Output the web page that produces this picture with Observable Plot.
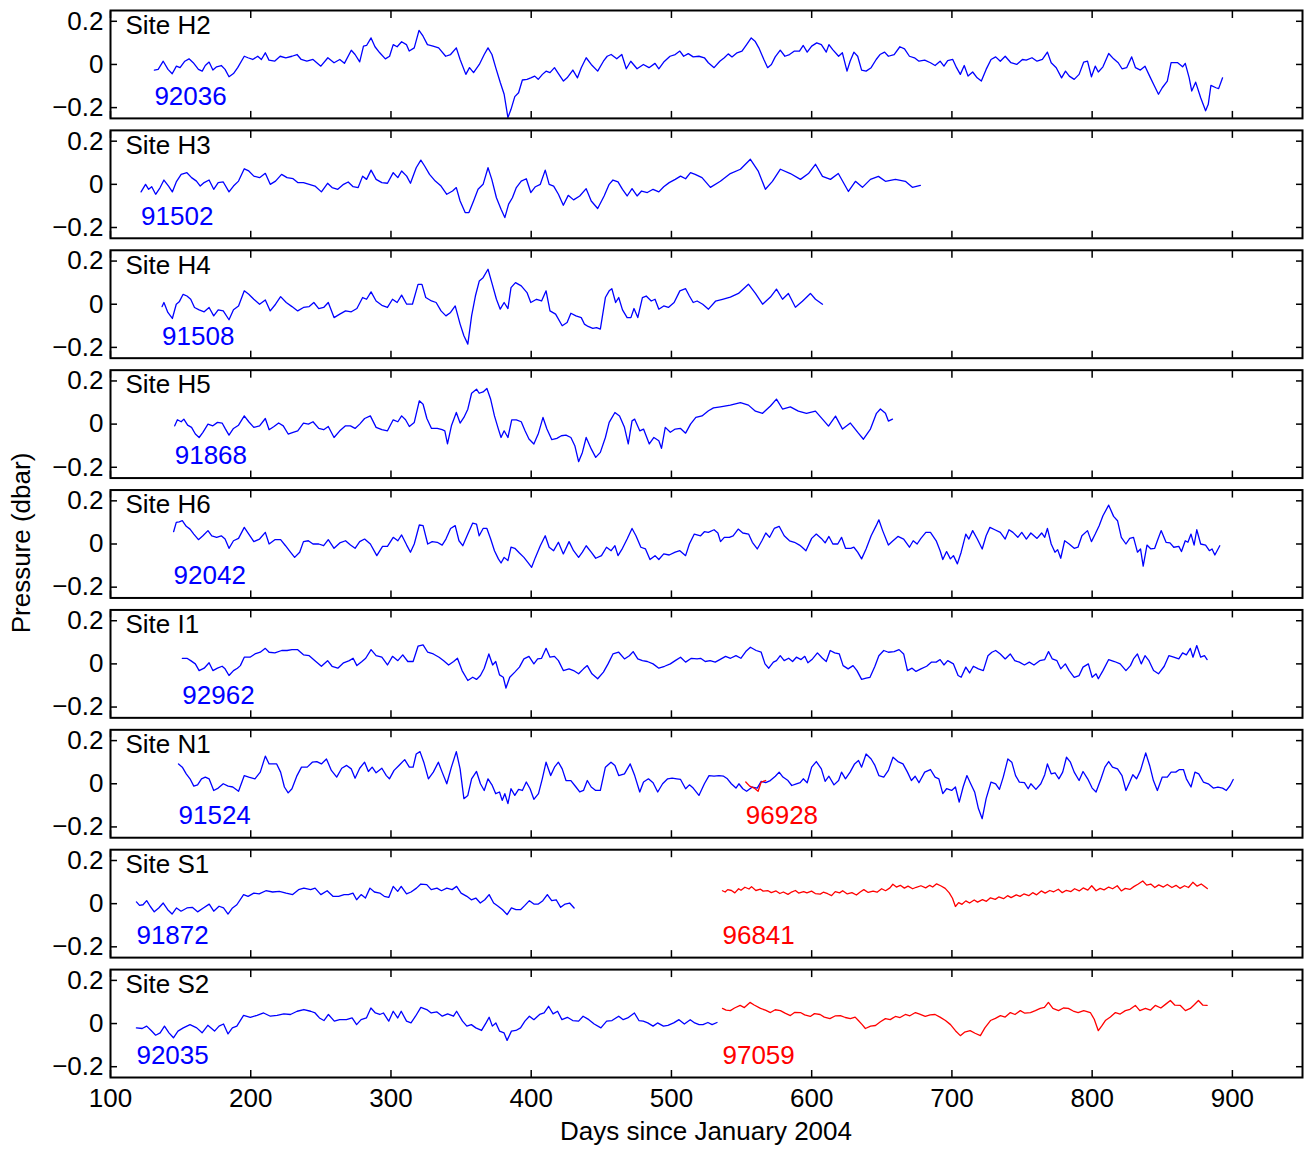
<!DOCTYPE html>
<html><head><meta charset="utf-8">
<script src="https://cdn.jsdelivr.net/npm/d3@7"></script>
<script src="https://cdn.jsdelivr.net/npm/@observablehq/plot@0.6"></script>
<style>
body{margin:0;background:#fff;}
#wrap{position:relative;width:1309px;height:1149px;font-family:"Liberation Sans",Arial,Helvetica,sans-serif;color:#000;}
.ylab{position:absolute;left:22px;top:543px;transform:translate(-50%,-50%) rotate(-90deg);font-size:26px;white-space:nowrap;line-height:1.15;}
.xlab{position:absolute;left:706px;top:1132px;transform:translate(-50%,-50%);font-size:26px;white-space:nowrap;line-height:1.15;}
</style></head>
<body><div id="wrap"><div class="ylab">Pressure (dbar)</div><div class="xlab">Days since January 2004</div></div>
<script>
const sites = ["H2","H3","H4","H5","H6","I1","N1","S1","S2"];
const xTicks = [100,200,300,400,500,600,700,800,900];
const yTicks = [-0.2,0,0.2];
const yTickLabels = ["\u22120.2","0","0.2"];

const s92036 = [[131.3,-0.026],[134,-0.023],[137.6,0.015],[141,-0.023],[144,-0.043],[147,-0.008],[149.6,-0.015],[153,0.015],[156,0.026],[159,0.008],[162.7,-0.023],[165.4,-0.031],[167.6,-0.005],[170.3,0.011],[173,-0.026],[175.7,-0.011],[179,-0.005],[181.7,-0.023],[184.5,-0.057],[187.7,-0.042],[190.7,-0.015],[195.4,0.038],[198,0.031],[201.4,0.023],[205,0.038],[207.6,0.023],[210.4,0.054],[213,0.02],[217,0.015],[221,0.038],[225,0.031],[229.4,0.038],[233,0.046],[236,0.023],[240,0.015],[244.4,0.023],[250,-0.008],[255,0.031],[259.4,0.008],[263.5,0.023],[266.8,0.005],[271.7,0.066],[274.4,0.046],[277.7,0.012],[280.4,0.085],[282.6,0.088],[285.8,0.123],[288.6,0.082],[292,0.054],[296,0.026],[299,0.038],[301.6,0.092],[304.4,0.082],[307.6,0.105],[311,0.092],[313,0.062],[316.6,0.077],[320,0.158],[322.9,0.131],[326,0.092],[330,0.085],[334,0.077],[339,0.038],[342.5,0.046],[346.6,0.077],[349.3,0.023],[353.4,-0.046],[356,-0.015],[358.9,-0.038],[363,0],[366.5,0.046],[369.2,0.077],[372,0.046],[374.7,-0.015],[378,-0.085],[380.7,-0.138],[383.4,-0.246],[385.6,-0.208],[388.3,-0.149],[391,-0.131],[393.7,-0.072],[397,-0.069],[399.7,-0.062],[402.5,-0.054],[405,-0.069],[408,-0.046],[410.6,-0.031],[413.4,-0.038],[416.6,-0.015],[419.4,-0.042],[423,-0.077],[425.6,-0.062],[429.7,-0.026],[433,-0.062],[435.7,-0.015],[439.2,0.031],[442.8,0],[447.4,-0.031],[451.5,0.015],[454.2,0.038],[457,0.046],[461,0.026],[464.6,0.046],[467.8,-0.02],[471,0.015],[475.5,-0.02],[480,0],[484,-0.015],[488.3,0.005],[491,-0.02],[494.5,0.011],[499,0.038],[502.7,0.046],[506,0.062],[508.7,0.038],[512,0.05],[515.5,0.035],[519.6,0.038],[523.5,0.031],[526.3,0.008],[530.4,-0.015],[534.5,0.015],[537.7,0.031],[540.5,0.049],[543.2,0.035],[546.8,0.054],[550.3,0.062],[553.6,0.092],[556.9,0.123],[559.6,0.108],[562.3,0.077],[565.9,0.023],[568.6,-0.015],[571.3,0],[574,0.035],[577.6,0.066],[580.9,0.038],[584.2,0.046],[587.7,0.062],[591.3,0.062],[594,0.088],[596.8,0.057],[600,0.085],[603.6,0.1],[606.9,0.092],[610.4,0.057],[612.3,0.092],[615,0.069],[619.2,0.038],[621.9,0.054],[625.2,-0.031],[627.4,0.015],[630.1,0.057],[632.8,0.038],[635.6,-0.026],[638.8,-0.031],[642.4,-0.015],[646,0.023],[648.7,0.046],[652,0.057],[654.7,0.038],[658.8,0.046],[662.9,0.082],[666.2,0.072],[669.7,0.038],[673.3,0.031],[676.5,0.015],[680.6,0.02],[684.7,0.008],[688,-0.005],[691.6,0.015],[694.3,-0.008],[697,0.018],[700.6,0.023],[703.3,-0.015],[706,-0.046],[708.8,-0.005],[711.5,-0.054],[714.8,-0.035],[718,-0.062],[721,-0.077],[724.4,-0.023],[727.9,0.023],[731.2,0.035],[734.5,0.015],[738,0.038],[742.1,0.008],[746.2,0],[750.3,0.023],[753,0.02],[757.1,0.031],[760.7,0.015],[764.5,0.023],[768.1,0.057],[770.8,0.008],[774.4,-0.015],[778.2,-0.062],[781,-0.031],[783.7,-0.054],[787.2,-0.069],[790.7,-0.046],[794,0.011],[796.7,0.015],[799.5,-0.057],[802.2,-0.008],[804.4,-0.035],[807.7,-0.011],[811.8,0.051],[815.3,0.026],[818.6,0.008],[821.3,-0.02],[824.6,-0.015],[828.2,0.035],[830.9,-0.015],[834.4,-0.026],[837.7,-0.008],[841,-0.054],[843.8,-0.092],[847.3,-0.138],[850,-0.108],[853.6,-0.077],[856.3,0.008],[861,0.008],[864.5,-0.011],[866.4,0.005],[869.2,-0.062],[871,-0.123],[873.8,-0.082],[877.4,-0.154],[880.9,-0.215],[882.8,-0.185],[884.7,-0.097],[888.3,-0.108],[890.2,-0.112],[893,-0.062]];

const s91502 = [[121.8,-0.035],[125,0],[127.2,-0.023],[129.4,-0.011],[132.2,-0.046],[135.4,-0.015],[138.1,0.02],[141.4,-0.008],[144.1,-0.035],[146.9,0.011],[150.4,0.046],[154.5,0.054],[157.8,0.031],[161.3,0.015],[164,-0.008],[166.8,0.008],[170.3,0.02],[173.6,-0.023],[176.8,0.008],[180.4,0.011],[184.5,-0.035],[187.7,-0.008],[191.3,0.015],[195.4,0.072],[198.6,0.062],[202.2,0.038],[206.3,0.031],[210.4,0.051],[213.9,0],[217.7,0.015],[222,0.046],[225.9,0.031],[230.2,0.026],[233.5,0.008],[237.6,0.008],[241.7,0],[245.8,-0.008],[250.4,-0.035],[254.8,0.005],[258,-0.015],[262.1,-0.023],[266.2,0],[269.5,0.011],[273,-0.011],[276.6,-0.015],[279.8,0.038],[282.6,0.023],[285.8,0.066],[289.4,0.023],[293.5,0.008],[297.5,0.005],[301.6,0.054],[304.9,0.031],[307.6,0.062],[311.2,0.038],[313.9,0.005],[318,0.077],[321.3,0.112],[324,0.085],[327.5,0.046],[331.6,0.015],[335.7,-0.008],[339.8,-0.046],[343.9,-0.031],[346.6,-0.015],[349.3,-0.077],[352.9,-0.131],[355.6,-0.131],[358.9,-0.077],[362.1,-0.023],[365.7,0],[369.2,0.077],[371.9,0.023],[375.2,-0.062],[378.5,-0.115],[381.2,-0.154],[383.9,-0.092],[386.6,-0.062],[389.4,-0.015],[392.9,0.015],[396.5,0.026],[399.7,-0.038],[403,-0.011],[406.5,0],[410,0.066],[412.8,0],[416,-0.008],[419.4,-0.046],[422.9,-0.097],[426.4,-0.051],[430.2,-0.072],[434.6,-0.054],[439.2,-0.02],[442.8,-0.077],[447.4,-0.112],[452,-0.054],[455.6,0],[458.3,0.02],[461.9,0.011],[465.1,-0.023],[468.4,-0.054],[471.9,-0.02],[475.5,-0.054],[478.7,-0.031],[482.8,-0.038],[486.9,-0.023],[491,-0.035],[494.5,-0.011],[498.4,0.008],[502.7,0.023],[506.5,0.038],[510.1,0.026],[513.6,0.054],[516.9,0.046],[521.8,0.031],[527.8,-0.014],[534.9,0.014],[542,0.05],[549.2,0.07],[556.3,0.116],[562,0.06],[567,-0.023],[572,0.014],[577.7,0.07],[584.8,0.05],[592,0.023],[597.7,0.05],[602.7,0.093],[607.7,0.037],[613.4,0.023],[619,0.05],[626.2,-0.033],[631.2,0.014],[636.2,-0.014],[641.9,0.023],[647.6,0.037],[652.6,0.014],[659.7,0.023],[666.8,0.014],[671.8,-0.014],[677.5,-0.005]];

const s91508 = [[136.8,-0.011],[138.1,0.008],[140.9,-0.038],[144.1,-0.066],[146.9,0],[149,0.011],[151.8,0.046],[154.5,0.038],[157.2,0.023],[159.9,-0.015],[163.2,-0.026],[166.8,-0.035],[170.3,-0.015],[173.6,-0.054],[176.8,-0.026],[180.4,-0.031],[184.5,-0.072],[187.7,-0.026],[191.3,-0.008],[195.4,0.062],[198.6,0.046],[202.2,0.023],[206.3,0],[210.4,0.02],[213.9,-0.031],[217.7,0],[221.3,0.035],[225.3,0.008],[229.4,-0.011],[233.5,-0.031],[237.6,-0.015],[241.7,-0.011],[245,0.008],[248.5,-0.02],[252,-0.015],[255.3,0.008],[259.4,-0.062],[263.5,-0.046],[267.6,-0.031],[271.7,-0.035],[275.7,-0.02],[279.8,0.031],[282.6,0.023],[285.8,0.057],[289.4,0.015],[293.5,-0.005],[297.5,-0.015],[301.1,0.023],[304.4,0.008],[307.6,0.042],[311.2,0],[315.3,0],[319.3,0.092],[322.1,0.092],[324.8,0.031],[328.9,0.015],[332.2,0.008],[335.7,-0.031],[339.2,-0.054],[342.5,-0.038],[345.8,-0.008],[349.3,-0.092],[352,-0.146],[354.8,-0.185],[357.5,-0.054],[360.2,0.038],[363,0.108],[365.7,0.123],[369.2,0.162],[371.9,0.1],[375.2,0.023],[377.9,-0.023],[380.7,0.008],[383.4,-0.02],[385.6,0.077],[388.8,0.1],[392.9,0.085],[397,0.054],[399.7,0.008],[403.8,0.023],[407.4,0.015],[410.6,0.062],[413.4,-0.031],[417.4,-0.046],[422.1,-0.1],[425.6,-0.085],[428.3,-0.042],[431.9,-0.054],[435.7,-0.062],[437.9,-0.092],[440.6,-0.103],[443.9,-0.112],[446.6,-0.108],[449.3,-0.115],[452.9,0.031],[455.6,0.062],[457.5,0.072],[460.2,0.008],[462.4,0.031],[465.1,-0.026],[468.4,-0.062],[471.1,-0.062],[473.3,-0.02],[476,-0.062],[479.3,0.031],[482,0.038],[485.6,0.015],[488.3,0.023],[491,-0.023],[494.5,-0.008],[497.8,-0.015],[501.9,0.008],[506,0.062],[510.1,0.072],[512.8,0.038],[515.5,0.008],[518.3,0.015],[522.3,0],[526.4,-0.023],[531.4,0.014],[536.4,0.023],[542,0.033],[547.8,0.05],[554.9,0.093],[559.9,0.05],[565,0],[570.6,0.033],[574.9,0.07],[579.2,0.023],[583.4,0.05],[588.4,-0.014],[593.4,0.014],[599.1,0.05],[602.7,0.023],[607.7,0]];

const s91868 = [[145.8,-0.008],[147.7,0.02],[150.4,0.011],[152.3,0.023],[155,-0.005],[157.8,-0.015],[160.5,-0.046],[163.2,-0.062],[165.9,-0.038],[169.5,0],[173,-0.008],[176.3,0.008],[179.6,0.005],[181.7,-0.02],[184.5,-0.051],[187.7,-0.02],[191.3,-0.005],[195.4,0.038],[198.6,0.011],[202.2,-0.015],[206.3,-0.008],[210.4,0.026],[213.1,-0.026],[216.6,-0.011],[219.9,0.005],[223.2,-0.008],[226.7,-0.046],[230.2,-0.038],[233.5,-0.031],[237.6,0.005],[241.1,0],[244.4,0.011],[248.5,-0.02],[252,-0.026],[255.3,-0.011],[259.4,-0.062],[263.5,-0.031],[267.6,-0.008],[271.1,-0.008],[274.4,-0.02],[277.7,0],[281.2,0.026],[285.3,0.038],[289.4,-0.015],[293.5,-0.026],[297.5,-0.031],[301.6,0.02],[304.9,0.011],[307.6,0.038],[310.4,0.02],[313.1,-0.011],[316.6,0.008],[320.2,0.108],[322.9,0.092],[325.6,0.026],[328.9,-0.02],[333,-0.02],[336.5,-0.026],[338.4,-0.031],[340.3,-0.092],[343.1,-0.008],[346.6,0.054],[349.3,0.005],[352,0.031],[354.8,0.069],[357.5,0.143],[361,0.162],[362.9,0.143],[365.7,0.149],[368.4,0.165],[371.1,0.115],[373.8,0.038],[376.6,-0.023],[378.5,-0.062],[380.7,-0.031],[383.4,-0.062],[386.1,0.02],[389.4,0.02],[392.9,0.011],[395.6,-0.031],[398.4,-0.069],[401.9,-0.092],[405.2,-0.042],[408.4,0.031],[411.2,-0.023],[414.7,-0.072],[418.3,-0.066],[421.5,-0.054],[424.8,-0.051],[428.3,-0.062],[431.1,-0.1],[433.8,-0.174],[436.5,-0.131],[439.2,-0.062],[442.8,-0.115],[446,-0.154],[449.3,-0.131],[452.9,-0.062],[455.6,0.008],[459.7,0.054],[463,0.038],[466.5,-0.015],[469.2,-0.092],[471.9,0.015],[473.8,0.023],[477.4,-0.031],[480.1,-0.023],[484.2,-0.092],[487.5,-0.062],[491,-0.077],[492.9,-0.112],[495.6,-0.015],[499.2,-0.038],[502.7,-0.023],[506.5,-0.02],[510.1,-0.042],[513.6,0],[517.4,0.031],[521.8,0.038],[526.4,0.062],[530,0.075],[534.9,0.08],[542,0.088],[549.2,0.1],[554.9,0.088],[559.9,0.06],[565,0.05],[570.6,0.084],[574.9,0.116],[579.2,0.07],[584.8,0.08],[590.5,0.06],[596.3,0.05],[602.7,0.06],[607.7,0.023],[612,-0.009],[617,0.037],[622,-0.023],[627.6,0.005],[633.3,-0.042],[636.9,-0.07],[641.9,-0.023],[646.2,0.05],[649,0.07],[652.6,0.05],[654.7,0.014],[657.6,0.023]];

const s92042 = [[145,0.057],[146.9,0.1],[149,0.103],[151.2,0.108],[154,0.082],[156.7,0.069],[159.4,0.046],[162.7,0.02],[165.9,0.038],[169.5,0.062],[172.2,0.038],[175.7,0.031],[179,0.038],[181.7,0.023],[184.5,-0.02],[187.7,0.015],[191.3,0.026],[195.4,0.077],[198.6,0.046],[202.2,0.011],[206.3,0.023],[210.4,0.054],[213.1,0],[217.2,0.02],[221.3,0.02],[224.8,-0.008],[227.5,-0.031],[231.3,-0.062],[234.9,-0.038],[237.6,0.011],[241.1,0.015],[244.4,0],[248.5,0],[252,-0.008],[255.3,0.02],[259.4,-0.02],[263.5,0.005],[267.6,0.015],[271.1,-0.005],[274.4,-0.02],[277.7,0.011],[281.2,0.023],[285.3,0],[289.9,-0.054],[294,-0.011],[297.5,-0.011],[301.6,0.031],[304.9,0.015],[307.6,0.042],[311.2,-0.005],[313.9,-0.038],[316.6,0],[320.2,0.088],[322.9,0.085],[326.2,0],[329.4,0.011],[333,0.008],[336.5,-0.005],[339.2,0.023],[342.5,0.072],[345.8,0.085],[348.5,0.015],[351.2,-0.008],[354.8,0.046],[358.3,0.097],[361,0.092],[362.9,0.038],[365.7,0.072],[368.4,0.072],[371.1,0.023],[373.8,-0.031],[376.6,-0.069],[378.5,-0.088],[380.7,-0.062],[383.4,-0.077],[385.6,-0.015],[388.3,-0.02],[391.6,-0.042],[394.8,-0.062],[397.6,-0.085],[400.3,-0.108],[403,-0.062],[406.5,-0.008],[410,0.038],[412.8,-0.015],[416,-0.031],[419.4,0.008],[422.9,-0.046],[427,0.011],[430.2,-0.031],[433.8,-0.062],[436.5,-0.038],[439.2,-0.008],[442.8,-0.038],[446,-0.066],[450.1,-0.054],[453.7,-0.015],[457,-0.031],[459.7,-0.008],[461.9,-0.054],[465.1,-0.02],[468.4,0.023],[471.9,0.072],[474.7,0.038],[478.2,-0.015],[481.5,-0.023],[484.7,-0.072],[488.3,-0.054],[491,-0.072],[494.5,-0.046],[498.4,-0.051],[502.7,-0.038],[506,-0.031],[510.1,-0.054],[512.8,0],[516.3,0.046],[520.8,0.038],[523.5,0.057],[526.3,0.054],[530.4,0.066],[533.1,0.051],[535,0.011],[537.7,0.031],[541.3,0.031],[544,0.038],[547.6,0.069],[550.9,0.051],[555,0.046],[557.7,0.008],[561.2,-0.023],[564.5,0.015],[567.3,0.051],[570,0.031],[573.3,0.072],[576.8,0.082],[580.4,0.038],[584.2,0.015],[587.7,0.008],[591.3,-0.005],[593.2,-0.015],[595.9,-0.031],[600,0.026],[603.3,0.046],[606.9,0.026],[609.6,0.005],[612.3,0.035],[615.1,0],[618.6,0],[621.3,0.031],[624.1,-0.02],[627.9,-0.02],[630.1,-0.015],[632.8,-0.038],[635.6,-0.069],[638.8,-0.023],[642.4,0.038],[646,0.085],[647.9,0.112],[650.6,0.062],[654.7,-0.005],[658,0.015],[661.5,0.035],[665.6,0.023],[669.7,-0.015],[672.4,0.015],[675.2,0],[677.9,0.026],[681.4,0.054],[684.7,0.054],[688.8,0.015],[691.6,-0.031],[693.5,-0.072],[696.2,-0.035],[698.9,-0.069],[701.1,-0.054],[703.9,-0.092],[706.6,-0.038],[709.9,0.046],[712.1,0.023],[714.8,0.062],[718.1,0.023],[721.6,-0.023],[724.4,0.038],[727.1,0.077],[730.6,0.066],[734.5,0.054],[738,0.023],[740.7,0.066],[743.5,0.054],[747,0.031],[749.8,0.054],[753.1,0.023],[756.3,0.051],[760.7,0.026],[764,0.051],[766.2,0.031],[768.1,0.072],[770.8,0],[773.5,-0.038],[775.4,-0.026],[777.6,-0.066],[780.4,0.015],[783.6,0],[787.2,-0.02],[789.9,-0.015],[792.7,0.038],[796.7,0.062],[799.5,0.011],[802.2,0.046],[805,0.085],[807.7,0.131],[811.8,0.18],[815.3,0.128],[818.1,0.108],[820.8,0.031],[824.1,0],[826.8,0.026],[829.5,0.031],[832.3,-0.038],[834.5,-0.023],[836.4,-0.103],[839.1,-0.005],[841.9,-0.023],[844.6,-0.02],[846.5,0.015],[849.2,0.062],[852.7,0.008],[855.5,0.005],[858.2,-0.015],[861.8,-0.011],[863.7,-0.035],[866.4,0.015],[868.3,0.008],[870.5,0.046],[872.7,-0.005],[874.6,0.066],[877.4,0],[880.9,-0.005],[883.6,-0.031],[885.5,-0.023],[887.5,-0.051],[891,-0.008]];

const s92962 = [[151.2,0.026],[154.5,0.026],[157.2,0.015],[160.5,0],[163.2,-0.031],[166.8,-0.02],[170.3,0.005],[173,-0.031],[176.3,-0.02],[179.6,-0.011],[181.7,-0.023],[184.5,-0.054],[187.7,-0.031],[190.5,-0.02],[192.6,-0.008],[195.4,0.031],[199.5,0.031],[203,0.046],[206.8,0.054],[210.4,0.072],[213.1,0.054],[217.2,0.051],[222.1,0.062],[225.9,0.062],[229.4,0.066],[233.5,0.066],[237.6,0.042],[241.7,0.038],[245.8,0.015],[250.4,-0.011],[254.8,0.015],[258,-0.011],[262.1,-0.02],[266.2,0.005],[270.3,0.015],[273,0.026],[275.7,-0.008],[279.3,0.011],[282,0.026],[285.8,0.066],[289.4,0.038],[293.5,0.031],[297.5,-0.005],[301.1,0.035],[304.9,0.015],[308.4,0.042],[312,0.011],[315.8,0.011],[319.3,0.082],[322.9,0.088],[326.2,0.054],[330.2,0.046],[334.3,0.031],[337.6,0.015],[341.1,-0.005],[344.7,0.011],[347.4,0.026],[350.7,-0.031],[354.8,-0.077],[358.3,-0.062],[361,-0.072],[363.8,-0.054],[366.5,-0.02],[369.8,0.046],[372.5,-0.005],[374.7,0.011],[377.4,-0.051],[380.1,-0.062],[382,-0.112],[384.7,-0.062],[388.3,-0.038],[391.6,-0.015],[394.8,0.023],[398.4,0.035],[401.9,0],[404.6,0.023],[407.4,0.026],[410.6,0.072],[413.4,0.031],[416.6,0.035],[419.4,0.015],[422.9,-0.031],[427,-0.023],[430.2,-0.031],[433.8,-0.046],[437.3,-0.023],[440,-0.008],[443.3,-0.046],[447.4,-0.069],[451.5,-0.038],[454.8,0],[458.3,0.046],[462.4,0.054],[466.5,0.023],[470,0.038],[472.7,0.057],[476,0.023],[479.3,0.015],[482.8,0.011],[486.9,0],[491,-0.02],[495.1,-0.011],[499.2,0],[502.7,0.015],[506.5,0.031],[510.1,0.008],[514.2,0.026],[518.3,0.023],[520.8,0.026],[524.1,0.011],[527.6,0.015],[531.2,0.008],[534.5,0.02],[538.6,0.035],[542.1,0.026],[546,0.038],[549.5,0.026],[553,0.057],[556.3,0.077],[560.4,0.062],[564,0.054],[566.7,0],[569.4,-0.02],[572.7,0.008],[574.9,0.015],[577.6,0.038],[580.4,0.015],[583.6,0.026],[586.4,0.011],[589.1,0.031],[592.4,0.02],[595.1,0.035],[597.3,0.005],[600.6,0.023],[604.1,0.051],[607.7,0.026],[610.4,0.011],[613.2,0.062],[616.4,0.051],[619.7,0.046],[622.4,-0.008],[626,-0.023],[629.5,-0.008],[632.3,-0.031],[635.6,-0.072],[638.8,-0.066],[641.6,-0.062],[645.1,-0.011],[647.9,0.038],[651.4,0.062],[654.7,0.054],[658.8,0.057],[662.3,0.066],[665.6,0.046],[668.3,-0.031],[671.6,-0.02],[674.4,-0.035],[677.9,-0.023],[682,-0.011],[685.3,0.008],[688.8,0.008],[691.6,0.02],[694.3,-0.005],[697,0.015],[701.1,0],[704.4,-0.054],[706.6,-0.062],[709.9,-0.015],[712.6,-0.042],[715.3,-0.011],[718.9,-0.023],[722.4,-0.031],[725.7,0.038],[728.5,0.054],[731.2,0.062],[734.5,0.046],[738,0.023],[741.6,0.046],[744.8,0.015],[748.1,0.008],[751.7,-0.005],[755.2,0.008],[758.5,-0.005],[762.6,0.015],[766.2,0.02],[768.9,0.057],[771.6,0.023],[774.9,0.015],[777.6,-0.023],[780.9,0],[783.6,-0.031],[787.2,-0.062],[790.7,-0.054],[793.5,-0.015],[797.3,0],[800,-0.062],[802.8,-0.046],[804.4,-0.069],[807.7,-0.031],[811.8,0.02],[815.9,0.011],[820,0],[824.1,-0.031],[827.3,-0.008],[829.5,0.023],[832.3,0.046],[835,0],[837.7,0.038],[840.5,0.015],[843.8,-0.031],[847.3,-0.046],[851.4,-0.011],[854.7,0.038],[858.2,0.031],[861.8,0.023],[864.5,0.051],[867.2,0.042],[870,0.072],[871.9,0.031],[874.6,0.085],[877.4,0.031],[880.1,0.038],[882,0.02]];

const s91524 = [[148.5,0.092],[151.2,0.077],[154,0.046],[156.7,0.023],[159.4,-0.011],[162.1,-0.005],[164.9,0.023],[167.6,0.031],[170.3,0.023],[173.6,-0.031],[176.8,-0.02],[180.4,0],[183.9,-0.011],[187.2,-0.015],[191.3,-0.035],[195.4,0.038],[198.6,0.031],[203,0.023],[206.8,0.054],[210.4,0.128],[213.1,0.092],[215.8,0.092],[218.5,0.092],[221.3,0.054],[224,-0.015],[226.7,-0.042],[229.4,-0.023],[233,0.038],[236.2,0.077],[240.3,0.077],[243.9,0.1],[247.1,0.103],[250.4,0.092],[254,0.115],[257.5,0.062],[261.3,0.031],[264.9,0.072],[268.4,0.085],[271.7,0.069],[274.4,0.026],[277.7,0.072],[281.2,0.1],[283.9,0.057],[286.6,0.077],[289.4,0.051],[293.5,0.072],[296.7,0.038],[298.9,0.023],[302.2,0.062],[305.7,0.085],[309.8,0.112],[313.1,0.077],[315.8,0.077],[318,0.138],[320.7,0.149],[323.4,0.1],[326.7,0.023],[330.2,0.054],[333.8,0.1],[336.5,0.054],[339.8,0],[343.1,0.077],[346.6,0.149],[349.3,0.069],[352,-0.069],[354.8,-0.054],[357.5,0.023],[361,0.057],[363.8,0],[366.5,-0.031],[369.2,0.023],[372,-0.005],[374.7,-0.046],[377.4,-0.038],[379.3,-0.077],[381.2,-0.046],[383.4,-0.092],[385.6,-0.023],[388.3,-0.054],[391,-0.026],[393.7,-0.031],[396.5,0.008],[399.2,-0.023],[401.9,-0.072],[405.2,-0.046],[407.9,0.023],[410.6,0.1],[413.9,0.038],[416.6,0.077],[419.4,0.1],[422.1,0.069],[424.8,0.015],[428.3,0.015],[431.9,-0.015],[434.6,-0.038],[437.3,-0.031],[440,0.015],[442.8,-0.015],[446,-0.031],[449.3,-0.031],[452.9,0.077],[456.9,0.1],[459.7,0.085],[462.4,0.038],[466.5,0.046],[470.6,0.092],[473.8,0.038],[477.4,-0.038],[480.1,0.008],[483.6,0.023],[486.9,0.005],[490.2,-0.038],[493.7,0],[497.3,0.023],[500.5,0.026],[503.8,0.023],[506.5,0.02],[510.1,-0.023],[512.8,-0.005],[515.5,-0.02],[519.6,-0.054],[523.5,0],[526.8,0.038],[530.4,0.035],[533.9,0.038],[537.2,0.035],[539.9,0.023],[542.7,0],[546,-0.02],[548.1,0],[550.9,-0.023],[553.6,-0.035],[557.7,-0.015],[561.2,-0.02],[564,0.011],[567.2,0.005],[570.5,0.015],[574.1,0.035],[576.8,0.054],[579.5,0.031],[583.1,0.015],[585.8,-0.008],[589.1,0],[591.8,0.005],[594,0.023],[596.8,0.005],[600,0.077],[603.3,0.103],[606.9,0.069],[609.6,0.011],[612.3,0.035],[615.9,-0.005],[619.2,0.015],[621.3,0.054],[624.1,0.023],[627.4,0.054],[630.6,0.092],[633.4,0.108],[635.6,0.077],[638.8,0.138],[642.4,0.115],[645.1,0.085],[647.9,0.038],[651.4,0.031],[654.7,0.062],[658,0.123],[661.5,0.103],[665.1,0.092],[668.3,0.054],[671.1,0.015],[673.8,0.035],[676.5,0.005],[680.6,0.054],[684.7,0.066],[688,0.031],[690.7,0.023],[693.5,-0.046],[696.2,-0.023],[699.8,-0.031],[702.5,-0.015],[705.2,-0.085],[708,-0.015],[710.7,0.038],[713.4,0],[716.2,-0.038],[718.9,-0.115],[721.6,-0.162],[724.4,-0.069],[727.9,0.008],[731.2,0],[733.9,-0.026],[736.6,0.031],[739.9,0.115],[742.7,0.1],[745.4,0.038],[748.1,0.008],[751.7,0.005],[754.4,-0.023],[756.3,0],[759.9,-0.026],[763.4,0],[766.2,0.042],[768.1,0.092],[770.8,0.046],[773.5,0.051],[776.3,0.023],[779,0.054],[781.7,0.123],[784.5,0.1],[787.2,0.054],[790.7,0.015],[793.5,0.057],[796.8,0.023],[800,-0.02],[802.8,-0.038],[806.3,0.023],[809.1,0.077],[811.8,0.103],[814.5,0.077],[818.1,0.069],[821.3,0.038],[824.1,-0.031],[826.8,0.008],[829,0.042],[831.7,0.023],[834.5,0.062],[838.2,0.143],[841,0.085],[843.7,0.015],[846.5,-0.031],[850,0.031],[853.6,0.031],[856.3,0.054],[859.6,0.054],[862.3,0.066],[865.1,0.066],[867.2,0.023],[870.5,-0.015],[873.3,0.054],[876,0.046],[879.3,0.008],[882.8,0],[886.4,-0.02],[889.7,-0.015],[893,-0.02],[895.7,-0.031],[898.4,-0.008],[900.6,0.02]];

const s96928 = [[553,0.008],[555.8,-0.011],[559,-0.02],[561.8,-0.035],[564,0.008],[567.2,0.015]];

const s91872 = [[118.5,0.008],[120.7,-0.008],[123.2,-0.005],[125.8,0.014],[128.3,-0.012],[131.2,-0.038],[134.4,-0.02],[137.6,0.003],[140.8,-0.028],[143.9,-0.048],[147.1,-0.02],[150.3,-0.035],[154.5,-0.02],[158.3,-0.017],[162.1,-0.038],[166.2,-0.02],[170.4,-0.002],[173.6,-0.035],[177.4,-0.012],[180.6,-0.02],[183.8,-0.048],[187,-0.02],[190.1,-0.005],[194.9,0.042],[198.1,0.034],[202.2,0.049],[206,0.045],[210.8,0.06],[215.6,0.054],[220.4,0.057],[225.2,0.049],[229.9,0.042],[234.1,0.065],[237.9,0.072],[242.7,0.065],[245.9,0.072],[250,0.042],[254.5,0.06],[258.6,0.034],[262.7,0.034],[266.6,0.042],[269.7,0.042],[272.9,0.049],[275.5,0.018],[278.7,0.042],[281.8,0.026],[285,0.072],[288.2,0.054],[292,0.049],[295.2,0.034],[298.4,0.029],[301.6,0.08],[304.8,0.057],[307.3,0.08],[311.1,0.045],[314.3,0.054],[318.2,0.072],[321.3,0.091],[325.5,0.088],[328.7,0.065],[332.8,0.072],[336,0.06],[339.8,0.072],[343.6,0.065],[346.8,0.08],[350,0.049],[354.1,0.034],[357.3,0.018],[360.5,0.026],[363.7,0.003],[366.9,0.018],[370,0.042],[373.2,0.003],[376.4,-0.012],[379.6,-0.028],[382.8,-0.051],[385.9,-0.02],[389.1,-0.028],[392.4,-0.028],[395.5,-0.008],[398.7,0.014],[401.9,-0.002],[405.1,-0.002],[408.3,0.014],[411.5,0.042],[414.6,0.014],[417.8,0.018],[421,-0.017],[424.2,-0.002],[427.4,0.003],[430.6,-0.02]];

const s96841 = [[536.4,0.06],[538.3,0.054],[540.1,0.065],[542.8,0.061],[545.2,0.05],[547.9,0.069],[549.6,0.062],[552.4,0.076],[555.3,0.068],[557.1,0.079],[560.2,0.061],[563.5,0.067],[565.4,0.058],[568.9,0.06],[571.2,0.051],[574.6,0.059],[577.3,0.047],[579.8,0.054],[583.1,0.043],[585.2,0.052],[588.4,0.061],[590.7,0.049],[594.3,0.056],[596.6,0.05],[599.9,0.058],[602.6,0.047],[606.1,0.044],[608.3,0.053],[611.4,0.046],[614.2,0.037],[616.8,0.056],[619.9,0.05],[622.1,0.06],[625.4,0.045],[628.7,0.051],[631.9,0.04],[634.6,0.054],[637.2,0.065],[640.3,0.052],[643.8,0.058],[646.6,0.053],[649.9,0.069],[652.7,0.06],[655.8,0.073],[657.9,0.09],[660.4,0.077],[663.2,0.085],[666.1,0.072],[668.7,0.081],[672,0.069],[674.6,0.076],[677.9,0.083],[681.3,0.073],[684.2,0.085],[686.3,0.077],[689.1,0.092],[692.3,0.082],[695.2,0.071],[698.1,0.05],[700.4,0.025],[702.5,-0.013],[704.8,0.005],[707.2,-0.003],[709.9,0.013],[712.6,0.003],[715.9,0.017],[718.3,0.007],[721.8,0.019],[724.6,0.011],[727.5,0.027],[730.9,0.02],[733.4,0.031],[736.8,0.023],[739.7,0.037],[742.2,0.028],[745.9,0.041],[748.6,0.034],[751.3,0.045],[754.8,0.037],[757.6,0.051],[760.4,0.041],[763.7,0.059],[766.5,0.049],[769.8,0.061],[772.6,0.055],[775.9,0.067],[778.7,0.051],[781.6,0.062],[784.9,0.056],[787.5,0.069],[790.8,0.059],[793.6,0.073],[796.9,0.063],[799.7,0.083],[802.8,0.06],[805.7,0.071],[808.5,0.064],[811.8,0.077],[814.6,0.069],[817.9,0.083],[820.8,0.059],[823.6,0.071],[826.9,0.066],[829.7,0.079],[832.9,0.091],[836.1,0.105],[838.9,0.086],[841.8,0.091],[844.7,0.075],[847.5,0.087],[850.8,0.077],[853.6,0.089],[856.9,0.075],[859.8,0.085],[862.6,0.071],[865.9,0.083],[868.7,0.075],[871.8,0.099],[874.9,0.081],[877.8,0.091],[882.1,0.07]];

const s92035 = [[118.5,-0.02],[122.6,-0.023],[125.8,-0.012],[129,-0.032],[132.2,-0.054],[135.4,-0.043],[138.5,-0.012],[141.7,-0.043],[144.9,-0.066],[148.1,-0.035],[151.9,-0.02],[156.7,-0.005],[161.5,-0.02],[165.3,-0.043],[169.4,-0.008],[174.2,-0.035],[177.4,-0.012],[180.6,-0.002],[183.8,-0.048],[186.9,-0.02],[190.1,-0.012],[194.9,0.038],[199.7,0.029],[204.5,0.038],[209.2,0.049],[214,0.034],[218.8,0.038],[223.6,0.045],[228.3,0.042],[233.1,0.057],[237.9,0.065],[242.7,0.057],[245.9,0.049],[249,0.026],[252.2,0.014],[255.4,0.042],[259.6,0.011],[263.4,0.018],[268.2,0.018],[272.3,0.026],[275.5,-0.005],[278.7,0.018],[282.5,0.026],[285.7,0.072],[288.9,0.049],[292,0.042],[294.6,0.049],[298.4,0.011],[301.6,0.057],[304.8,0.026],[307.3,0.057],[311.1,0.011],[314.3,0.003],[317.5,0.034],[321.3,0.075],[325.5,0.065],[328.7,0.049],[332.8,0.054],[336.6,0.034],[340.4,0.045],[344.6,0.034],[346.8,0.057],[351,0.011],[354.1,-0.012],[357.3,-0.005],[360.5,-0.02],[364.6,-0.032],[367.8,0.003],[370,0.029],[372.3,-0.012],[374.8,0.003],[377.4,-0.035],[380.6,-0.043],[382.8,-0.078],[385.9,-0.035],[389.1,-0.032],[392.4,-0.02],[395.5,0.011],[398.7,0.034],[401.9,0.018],[406,0.042],[409.2,0.049],[412.4,0.08],[415.6,0.045],[418.8,0.057],[421.9,0.018],[425.8,0.029],[429.6,0.014],[433.8,0.011],[437,0.034],[441.1,0.018],[444.9,-0.002],[449.7,-0.02],[453.8,0.011],[457.6,0.014],[462.4,0.034],[465.6,0.018],[468.8,0.026],[473.6,0.049],[476.8,0.014],[479.9,0.011],[483.1,0.003],[486.9,-0.012],[490.1,0.003],[494.3,-0.012],[497.5,-0.008],[501.6,0.003],[505.4,0.018],[509.2,-0.002],[513.4,0.018],[516.6,0.003],[519.7,-0.005],[522.5,-0.005],[526,0.005],[529,-0.005],[532.5,0.005]];

const s97059 = [[536.4,0.07],[539,0.062],[542,0.06],[545,0.072],[549,0.084],[552,0.074],[556,0.098],[559,0.086],[563.5,0.07],[567,0.062],[570.6,0.051],[574,0.064],[577.7,0.06],[581,0.048],[584.8,0.037],[588,0.052],[592,0.051],[595,0.04],[599,0.033],[602,0.046],[606,0.042],[609,0.03],[613,0.023],[617,0.036],[620.5,0.037],[624,0.028],[627.6,0.023],[631,0.03],[633.3,0.014],[636,-0.005],[638.3,-0.023],[642,-0.012],[645.5,-0.009],[649,0.008],[652.6,0.023],[656,0.018],[659.7,0.033],[663,0.028],[666.8,0.042],[670,0.036],[674,0.051],[677,0.044],[681,0.033],[684.5,0.04],[688,0.042],[691.5,0.03],[695.4,0.014],[699,-0.005],[702.5,-0.033],[706,-0.056],[709,-0.04],[713,-0.033],[716.5,-0.045],[720.3,-0.056],[723.5,-0.02],[727.5,0.014],[731,0.024],[734.6,0.037],[738,0.03],[741.7,0.051],[745,0.042],[748.8,0.06],[752,0.048],[756,0.051],[759.5,0.06],[763,0.07],[766,0.075],[768.8,0.098],[772,0.07],[776,0.06],[779.5,0.072],[783,0.07],[786.5,0.058],[790,0.051],[794,0.06],[798.7,0.051],[801.5,0.02],[804.4,-0.033],[807,-0.01],[809.4,0.014],[813,0.03],[816.6,0.051],[820,0.044],[823.7,0.06],[827,0.066],[830.8,0.084],[834,0.06],[838,0.07],[841.5,0.062],[845,0.084],[849,0.072],[852.5,0.09],[855.8,0.107],[859,0.085],[862.9,0.084],[866.5,0.06],[870,0.07],[873,0.088],[875.8,0.107],[879,0.085],[882,0.084]];

const series = [
  {site: "H2", id: "92036", deployment: "first", points: s92036},
  {site: "H3", id: "91502", deployment: "first", points: s91502},
  {site: "H4", id: "91508", deployment: "first", points: s91508},
  {site: "H5", id: "91868", deployment: "first", points: s91868},
  {site: "H6", id: "92042", deployment: "first", points: s92042},
  {site: "I1", id: "92962", deployment: "first", points: s92962},
  {site: "N1", id: "91524", deployment: "first", points: s91524},
  {site: "N1", id: "96928", deployment: "second", points: s96928},
  {site: "S1", id: "91872", deployment: "first", points: s91872},
  {site: "S1", id: "96841", deployment: "second", points: s96841},
  {site: "S2", id: "92035", deployment: "first", points: s92035},
  {site: "S2", id: "97059", deployment: "second", points: s97059}
];

const rows = series.flatMap(s => s.points.map(([day, p]) => ({site: s.site, id: s.id, deployment: s.deployment, day, p})));
const labels = series.map(s => ({site: s.site, id: s.id, deployment: s.deployment, day: s.points[0][0]}));
const yFormat = d => yTickLabels[yTicks.indexOf(d)] ?? String(d);

const FONT = '"Liberation Sans", Arial, Helvetica, sans-serif';

const chart = Plot.plot({
  width: 1309,
  height: 1149,
  marginLeft: 110,
  marginRight: 7,
  marginTop: 10,
  marginBottom: 72,
  style: {fontFamily: FONT, fontSize: "26px", background: "white", color: "black", overflow: "visible"},
  x: {domain: [100, 950]},
  y: {domain: [-0.25, 0.25]},
  fy: {domain: sites, axis: null, paddingInner: 0.1, paddingOuter: 0, round: false, label: null},
  color: {domain: ["first", "second"], range: ["#0000ff", "#ff0000"]},
  marks: [
    Plot.line(rows, {x: "day", y: "p", fy: "site", z: "id", stroke: "deployment", strokeWidth: 1.3}),
    Plot.text(labels, {x: "day", fy: "site", text: "id", fill: "deployment", frameAnchor: "bottom", dy: -22, textAnchor: "start", lineAnchor: "middle", fontSize: 26}),
    Plot.text(sites, {fy: d => d, text: d => "Site " + d, frameAnchor: "top-left", dx: 15, dy: 15, textAnchor: "start", lineAnchor: "middle", fontSize: 26, fill: "black"}),
    Plot.axisX({anchor: "bottom", ticks: xTicks, tickSize: -7, tickFormat: () => "", label: null, facetAnchor: null, strokeWidth: 1.5}),
    Plot.axisX({anchor: "top", ticks: xTicks, tickSize: -7, tickFormat: () => "", label: null, facetAnchor: null, strokeWidth: 1.5}),
    Plot.axisX({anchor: "bottom", ticks: xTicks, tickSize: 0, tickPadding: 11, label: null, tickFormat: d => String(d), fontSize: 26}),
    Plot.axisY({anchor: "left", ticks: yTicks, tickSize: -7, tickFormat: () => "", label: null, strokeWidth: 1.5}),
    Plot.axisY({anchor: "right", ticks: yTicks, tickSize: -7, tickFormat: () => "", label: null, strokeWidth: 1.5}),
    Plot.axisY({anchor: "left", ticks: yTicks, tickSize: 0, tickPadding: 7, label: null, tickFormat: yFormat, fontSize: 26}),
    Plot.frame({stroke: "black", strokeWidth: 2})
  ]
});
document.getElementById("wrap").prepend(chart);
</script>
</body></html>
